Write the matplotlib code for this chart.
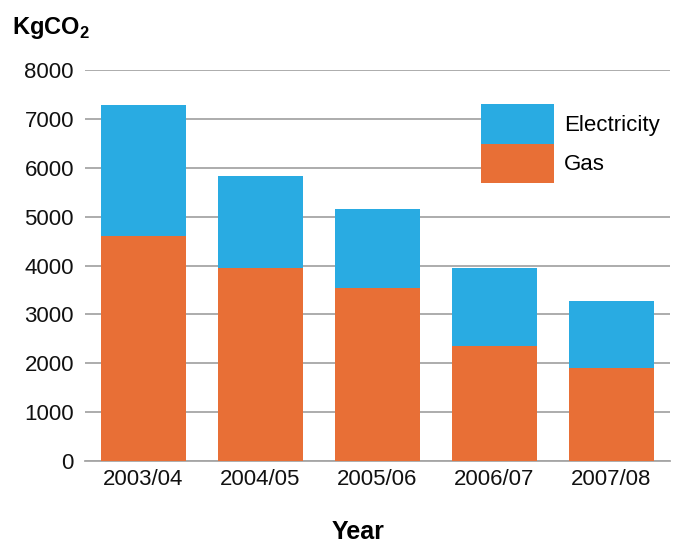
import matplotlib
matplotlib.use("Agg")
import matplotlib.pyplot as plt
from matplotlib.patches import Patch, Rectangle

years = ["2003/04", "2004/05", "2005/06", "2006/07", "2007/08"]
gas = [4600, 3950, 3540, 2350, 1900]
electricity = [2680, 1880, 1620, 1600, 1380]

plt.rcParams['font.family'] = ['Liberation Sans', 'DejaVu Sans']
plt.rcParams['mathtext.fontset'] = 'custom'
plt.rcParams['mathtext.rm'] = 'Liberation Sans'
plt.rcParams['mathtext.bf'] = 'Liberation Sans:bold'

blue = '#29abe2'
orange = '#e86f36'
grid = '#a6a6a6'
fs = 16

fig = plt.figure(figsize=(6.83, 5.49), dpi=100)
ax = fig.add_axes([85 / 683, 1 - 461 / 549, 585 / 683, 391 / 549])

x = list(range(len(years)))
ax.bar(x, gas, width=0.72, color=orange, zorder=3)
ax.bar(x, electricity, width=0.72, bottom=gas, color=blue, zorder=3)

ax.set_xlim(-0.5, 4.5)
ax.set_ylim(0, 8000)
ax.set_yticks(range(0, 8001, 1000))
ax.set_xticks(x)
ax.set_xticklabels(years)
ax.tick_params(axis='both', length=0, labelsize=fs, colors='#111111')
ax.tick_params(axis='y', pad=8)
ax.tick_params(axis='x', pad=6)
ax.yaxis.grid(True, color=grid, linewidth=1.3)
for s in ['top', 'right', 'left']:
    ax.spines[s].set_visible(False)
ax.spines['bottom'].set_color(grid)
ax.spines['bottom'].set_linewidth(1.3)

# white area behind legend
ax.add_patch(Rectangle((440 / 585, 1 - (195 - 70) / 391), 230 / 585, 103 / 391,
                       transform=ax.transAxes, facecolor='white', edgecolor='none', zorder=2))

handles = [Patch(facecolor=blue, edgecolor='none'), Patch(facecolor=orange, edgecolor='none')]
ax.legend(handles, ['Electricity', 'Gas'], loc='upper left',
          bbox_to_anchor=((481 - 85) / 585, 1 - (104 - 70) / 391),
          frameon=False, fontsize=fs, handlelength=3.3, handleheight=2.36,
          labelspacing=0, borderpad=0, borderaxespad=0, handletextpad=0.45)

fig.text(12 / 683, 1 - 28 / 549, r'KgCO$_\mathbf{2}$', fontsize=17, fontweight='bold', va='center')
fig.text(358 / 683, 1 - 532 / 549, 'Year', fontsize=18, fontweight='bold', ha='center', va='center')

fig.savefig('out.png', dpi=100)
